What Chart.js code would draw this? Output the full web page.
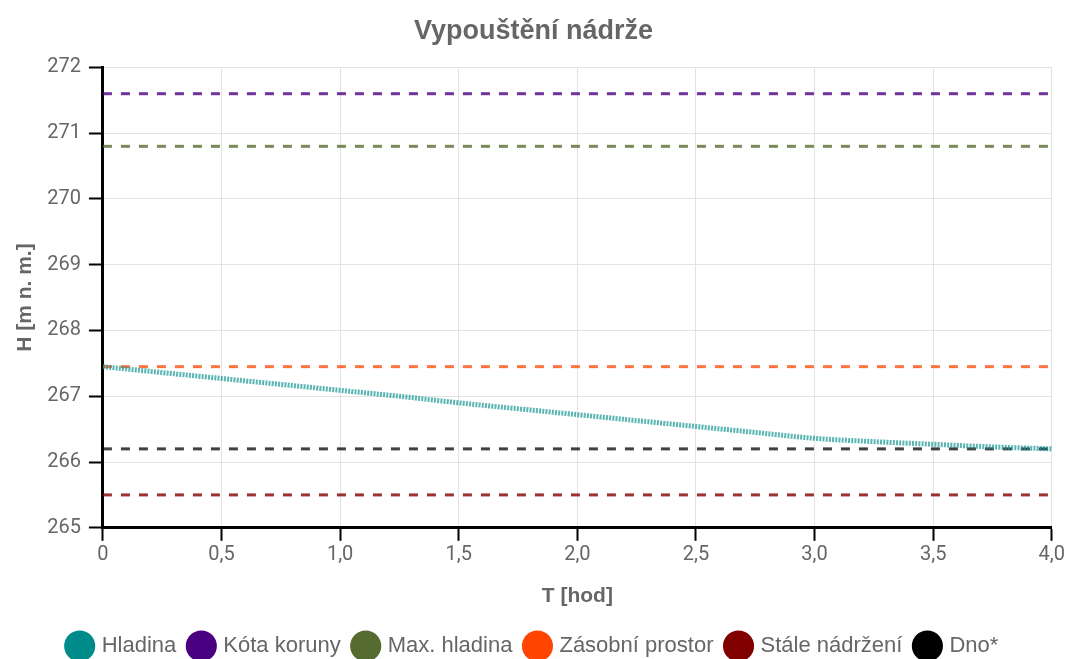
<!DOCTYPE html>
<html>
<head>
<meta charset="utf-8">
<script src="https://cdn.jsdelivr.net/npm/chart.js@4/dist/chart.umd.min.js"></script>
<style>
  body { margin: 0; background: #fff; }
  #wrap { width: 1067px; height: 659px; }
</style>
</head>
<body>
<div id="wrap"><canvas id="chart"></canvas></div>
<script>
// Time [hod] and water level [m n. m.]
const times = [0, 0.25, 0.5, 0.75, 1.0, 1.25, 1.5, 1.75, 2.0, 2.25, 2.5, 2.75, 3.0, 3.25, 3.5, 3.75, 4.0]
const hladina = [267.45, 267.36, 267.27, 267.18, 267.09, 267.0, 266.9, 266.81, 266.72, 266.63, 266.54, 266.45, 266.36, 266.31, 266.27, 266.23, 266.2]

// Constant levels
const levelNames = ["Kóta koruny", "Max. hladina", "Zásobní prostor", "Stále nádržení", "Dno*"]
const levelValues = [271.6, 270.8, 267.45, 265.5, 266.2]
const levelColors = ["#4b0082", "#556b2f", "#ff4500", "#800000", "#000000"]
const levelLineColors = ["rgba(75,0,130,0.8)", "rgba(85,107,47,0.8)", "rgba(255,69,0,0.75)", "rgba(128,0,0,0.8)", "rgba(0,0,0,0.75)"]

const xTicks = [0, 0.5, 1, 1.5, 2, 2.5, 3, 3.5, 4]
const yMin = 265
const yMax = 272

const datasets = [
  {
    label: "Hladina",
    data: times.map((t, i) => ({ x: t, y: hladina[i] })),
    borderColor: "rgba(20,150,150,0.7)",
    backgroundColor: "#008b8b",
    borderWidth: 5,
    borderDash: [2, 1.2],
    pointRadius: 0,
    cubicInterpolationMode: "monotone",
  },
]

levelNames.forEach((name, i) => {
  datasets.push({
    label: name,
    data: [
      { x: xTicks[0], y: levelValues[i] },
      { x: xTicks[xTicks.length - 1], y: levelValues[i] },
    ],
    borderColor: levelLineColors[i],
    backgroundColor: levelColors[i],
    borderWidth: 3,
    borderDash: [9, 9],
    pointRadius: 0,
  })
})

const ctx = document.getElementById("chart").getContext("2d")
new Chart(ctx, {
  type: "line",
  data: { datasets: datasets },
  options: {
    responsive: true,
    maintainAspectRatio: false,
    animation: false,
    layout: { padding: { right: 5, left: 5, bottom: -8 } },
    plugins: {
      title: {
        display: true,
        text: "Vypouštění nádrže",
        color: "#666",
        font: { family: "Liberation Sans, Arial, sans-serif", size: 27, weight: "bold" },
        padding: { top: 15, bottom: 20 },
      },
      legend: {
        position: "bottom",
        labels: {
          usePointStyle: true,
          pointStyle: "circle",
          padding: 14,
          color: "#666",
          font: { family: "Liberation Sans, Arial, sans-serif", size: 22 },
          generateLabels: (chart) => {
            const items = Chart.defaults.plugins.legend.labels.generateLabels(chart)
            items.forEach((it, i) => {
              const c = chart.data.datasets[i].backgroundColor
              it.fillStyle = c
              it.strokeStyle = c
              it.lineDash = []
              it.lineWidth = 0
              it.pointStyle = "circle"
            })
            return items
          },
        },
      },
      tooltip: { enabled: false },
    },
    scales: {
      x: {
        type: "linear",
        min: xTicks[0],
        max: xTicks[xTicks.length - 1],
        title: {
          display: true,
          text: "T [hod]",
          color: "#666",
          font: { family: "Liberation Sans, Arial, sans-serif", size: 21, weight: "bold" },
          padding: { top: 15, bottom: 12 },
        },
        ticks: {
          stepSize: 0.5,
          color: "#666",
          padding: 2,
          font: { family: "Roboto, sans-serif", size: 20 },
          callback: (v) => (v === 0 ? "0" : v.toFixed(1).replace(".", ",")),
        },
        grid: { color: "#e3e3e3", tickColor: "#000", tickLength: 13, tickWidth: 2 },
        border: { color: "#000", width: 3 },
      },
      y: {
        min: yMin,
        max: yMax,
        title: {
          display: true,
          text: "H [m n. m.]",
          color: "#666",
          font: { family: "Liberation Sans, Arial, sans-serif", size: 21, weight: "bold" },
          padding: { top: 8, bottom: 1 },
        },
        ticks: {
          stepSize: 1,
          color: "#666",
          padding: 8,
          font: { family: "Roboto, sans-serif", size: 20 },
        },
        grid: { color: "#e3e3e3", tickColor: "#000", tickLength: 14, tickWidth: 2 },
        border: { color: "#000", width: 3 },
      },
    },
  },
})
</script>
</body>
</html>
